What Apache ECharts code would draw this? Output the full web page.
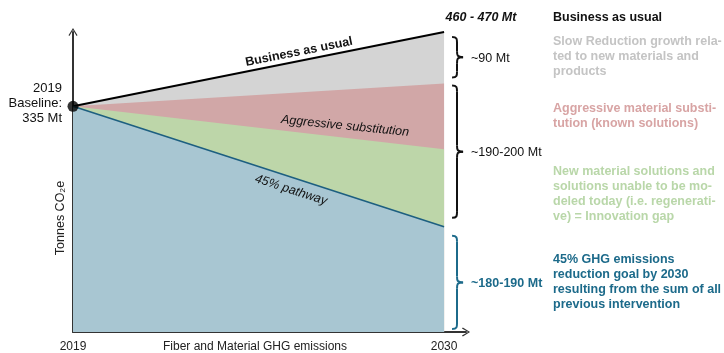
<!DOCTYPE html>
<html>
<head>
<meta charset="utf-8">
<script src="https://cdn.jsdelivr.net/npm/echarts@6/dist/echarts.min.js"></script>
<style>
  html, body { margin: 0; padding: 0; background: #fff; }
  #chart { width: 724px; height: 353px; }
</style>
</head>
<body>
<div id="chart"></div>
<script>
// Fiber and material GHG emissions, Mt CO2e, 2019 baseline to 2030
const years = [2019, 2030];
const businessAsUsual = [335, 465];   // upper edge of the grey band
const slowReduction = [335, 375];     // upper edge of the red band
const aggressiveSubst = [335, 260];   // upper edge of the green band
const pathway45 = [335, 124];         // 45% pathway line (top of the blue band)
const axisFloor = -60;                // bottom of the value axis
const axisCeiling = 465;

const yearLabels = ['2019', '2030'];
const baselineText = ['2019', 'Baseline:', '335 Mt'];
const bauRangeText = '460 - 470 Mt';
const braceLabels = ['~90 Mt', '~190-200 Mt', '~180-190 Mt'];

const legendBlocks = [
  { lines: ['Business as usual'], color: '#111111' },
  { lines: ['Slow Reduction growth rela-', 'ted to new materials and', 'products'], color: '#c4c4c4' },
  { lines: ['Aggressive material substi-', 'tution (known solutions)'], color: '#d8a4a4' },
  { lines: ['New material solutions and', 'solutions unable to be mo-', 'deled today (i.e. regenerati-', 've) = Innovation gap'], color: '#b9d7a9' },
  { lines: ['45% GHG emissions', 'reduction goal by 2030', 'resulting from the sum of all', 'previous intervention'], color: '#1c6a8a' }
];

const FONT = '"Liberation Sans", Arial, sans-serif';
const chevron = 'path://M0,0 L5,8 L4,9 L0,2.2 L-4,9 L-5,8 Z';

const pair = (vals) => years.map((y, i) => [y, vals[i]]);

function areaSeries(name, vals, fill, line) {
  return {
    name, type: 'line', data: pair(vals), silent: true,
    symbol: 'none',
    lineStyle: line || { width: 0 },
    areaStyle: { color: fill, opacity: 1, origin: 'start' },
    emphasis: { disabled: true }
  };
}

const axisLineStyle = { lineStyle: { color: '#333', width: 2 }, symbol: ['none', chevron], symbolSize: [9, 10], onZero: false };

const chart = echarts.init(document.getElementById('chart'));
chart.setOption({
  animation: false,
  textStyle: { fontFamily: FONT },
  grid: { left: 73, right: 258, top: 32, bottom: 20 },
  xAxis: {
    type: 'value', min: 2019, max: 2030.65, interval: 1,
    splitLine: { show: false },
    axisTick: { show: false },
    axisLine: axisLineStyle,
    axisLabel: {
      color: '#222', fontSize: 12, margin: 9, showMaxLabel: false,
      formatter: v => (yearLabels.includes(String(v)) ? String(v) : '')
    }
  },
  yAxis: {
    type: 'value', min: axisFloor, max: axisCeiling,
    splitLine: { show: false }, axisTick: { show: false }, axisLabel: { show: false },
    axisLine: axisLineStyle
  },
  series: [
    areaSeries('Business as usual', businessAsUsual, '#d4d4d4', { color: '#000', width: 2 }),
    areaSeries('Slow reduction', slowReduction, '#d1a7a7'),
    areaSeries('Aggressive substitution', aggressiveSubst, '#bdd6a9'),
    areaSeries('45% pathway', pathway45, '#a8c6d2', { color: '#1d5f80', width: 1.6 }),
    {
      type: 'scatter', silent: true, data: [[years[0], businessAsUsual[0]]],
      symbolSize: 11, itemStyle: { color: '#000' }, z: 5
    }
  ]
});

// Annotations placed from the data coordinates
const px = (x, y) => chart.convertToPixel({ gridIndex: 0 }, [x, y]);
const end = years[1];
const xEnd = px(end, 0)[0];

// Curly brace built from bezier and line pieces
function braceElements(x0, w, y1, y2, color) {
  const mid = (y1 + y2) / 2, xm = x0 + w * 0.45, r = 6;
  const st = { stroke: color, lineWidth: 2, fill: 'none' };
  const bz = (a, b, c, d) => ({
    type: 'bezierCurve', silent: true, z: 100, style: st,
    shape: { x1: a[0], y1: a[1], cpx1: b[0], cpy1: b[1], cpx2: c[0], cpy2: c[1], x2: d[0], y2: d[1] }
  });
  const ln = (a, b) => ({ type: 'line', silent: true, z: 100, style: st, shape: { x1: a[0], y1: a[1], x2: b[0], y2: b[1] } });
  return [
    bz([x0, y1], [xm, y1], [xm, y1 + 2], [xm, y1 + r]),
    ln([xm, y1 + r], [xm, mid - r]),
    bz([xm, mid - r], [xm, mid - 2], [xm, mid], [x0 + w, mid]),
    bz([x0 + w, mid], [xm, mid], [xm, mid + 2], [xm, mid + r]),
    ln([xm, mid + r], [xm, y2 - r]),
    bz([xm, y2 - r], [xm, y2 - 2], [xm, y2], [x0, y2])
  ];
}

function textEl(x, y, text, opts) {
  return {
    type: 'text', silent: true, z: 100, x, y, rotation: opts.rotation || 0,
    style: Object.assign({
      text, fontFamily: FONT, fontSize: 12, fill: '#111',
      align: 'left', verticalAlign: 'middle'
    }, opts.style || {})
  };
}

const graphics = [];

// Labels riding along the bands
const slope = (vals) => {
  const a = px(years[0], vals[0]), b = px(end, vals[1]);
  return Math.atan2(-(b[1] - a[1]), b[0] - a[0]);
};
graphics.push(textEl(299, 52, 'Business as usual', {
  rotation: slope(businessAsUsual),
  style: { align: 'center', fontWeight: 'bold', fontSize: 12.5 }
}));
graphics.push(textEl(345, 126, 'Aggressive substitution', {
  rotation: -0.1,
  style: { align: 'center', fontStyle: 'italic', fontSize: 12.5 }
}));
graphics.push(textEl(291, 190, '45% pathway', {
  rotation: slope(pathway45),
  style: { align: 'center', fontStyle: 'italic', fontSize: 12.5 }
}));

// Baseline callout
baselineText.forEach((t, i) => {
  graphics.push(textEl(62, 88 + i * 15, t, { style: { align: 'right', fontSize: 13 } }));
});

// Axis titles
graphics.push(textEl(61, 218, 'Tonnes CO\u2082e', {
  rotation: Math.PI / 2, style: { align: 'center', fontSize: 12.5, fill: '#222' }
}));
graphics.push(textEl(255, 347, 'Fiber and Material GHG emissions', {
  style: { align: 'center', fontSize: 12, fill: '#222' }
}));

// 2030 range label
graphics.push(textEl(481, 18, bauRangeText, {
  style: { align: 'center', fontWeight: 'bold', fontStyle: 'italic', fontSize: 12.5 }
}));

// Braces at 2030
const bx = xEnd + 8;
const yBau = px(end, businessAsUsual[1])[1];
const ySlow = px(end, slowReduction[1])[1];
const yPath = px(end, pathway45[1])[1];
const yFloor = px(end, axisFloor)[1];
const braces = [
  { y1: yBau + 5, y2: ySlow - 6, color: '#111', label: braceLabels[0], bold: false },
  { y1: ySlow + 2, y2: yPath - 9, color: '#111', label: braceLabels[1], bold: false },
  { y1: yPath + 9, y2: yFloor - 3, color: '#1c6a8a', label: braceLabels[2], bold: true }
];
braces.forEach(b => {
  graphics.push(...braceElements(bx, 11, b.y1, b.y2, b.color));
  graphics.push(textEl(bx + 19, (b.y1 + b.y2) / 2 + 1, b.label, {
    style: { fill: b.color, fontSize: 12.5, fontWeight: b.bold ? 'bold' : 'normal' }
  }));
});

// Explanatory column on the right
const blockTops = [18, 42, 109, 172, 260];
legendBlocks.forEach((blk, i) => {
  blk.lines.forEach((ln, j) => {
    graphics.push(textEl(553, blockTops[i] + j * 15, ln, {
      style: { fill: blk.color, fontWeight: 'bold', fontSize: 12.5 }
    }));
  });
});

chart.setOption({ graphic: graphics });
</script>
</body>
</html>
